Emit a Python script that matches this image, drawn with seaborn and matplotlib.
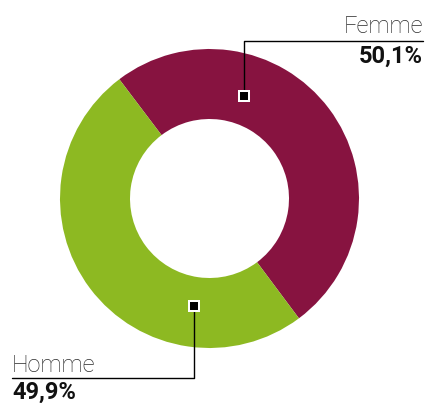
import numpy as np
import matplotlib
matplotlib.use("Agg")
import matplotlib.pyplot as plt
import seaborn as sns

# data
labels = ["Femme", "Homme"]
values = [50.1, 49.9]
value_labels = ["50,1%", "49,9%"]
colors = ["#871340", "#8DB922"]

sns.set_style("white")
plt.rcParams["font.family"] = ["Roboto", "DejaVu Sans"]

W, H = 427, 403
fig = plt.figure(figsize=(W / 100, H / 100), dpi=100)
ax = fig.add_axes([0, 0, 1, 1])

# pixel-like coords, y measured from top
cx, cy = 209.5, 198.5
R, r = 149.5, 79.5

wedges, _ = ax.pie(values, colors=colors, startangle=127.1, counterclock=False,
                   radius=R, center=(cx, H - cy),
                   wedgeprops=dict(width=R - r, linewidth=0))
ax.set_xlim(0, W)
ax.set_ylim(0, H)
ax.set_aspect("equal")
ax.axis("off")

def py(y):
    return H - y

# annotation anchors: angle (deg) and radius inside the ring
anchors = [(71.3, 108.5), (-98.0, 108.3)]
pts = [(cx + rad * np.cos(np.radians(a)), cy - rad * np.sin(np.radians(a))) for a, rad in anchors]

# Femme: up then right
mx, my = pts[0]
ax.plot([mx, mx, 423], [py(my), py(41), py(41)], color="black", lw=1.0, zorder=3)
ax.plot(mx, py(my), marker="s", ms=6.5, mfc="black", mec="white", mew=1.45, zorder=4)
ax.text(423, py(33), labels[0], ha="right", va="baseline", fontsize=17,
        fontweight="light", color="#2a2a2a")
ax.text(423, py(63), value_labels[0], ha="right", va="baseline", fontsize=17,
        fontweight="bold", color="#111111")

# Homme: down then left
mx, my = pts[1]
ax.plot([mx, mx, 12], [py(my), py(378), py(378)], color="black", lw=1.0, zorder=3)
ax.plot(mx, py(my), marker="s", ms=6.5, mfc="black", mec="white", mew=1.45, zorder=4)
ax.text(12, py(372.5), labels[1], ha="left", va="baseline", fontsize=17,
        fontweight="light", color="#2a2a2a")
ax.text(12, py(398.5), value_labels[1], ha="left", va="baseline", fontsize=17,
        fontweight="bold", color="#111111")

fig.savefig("out.png", dpi=100)
